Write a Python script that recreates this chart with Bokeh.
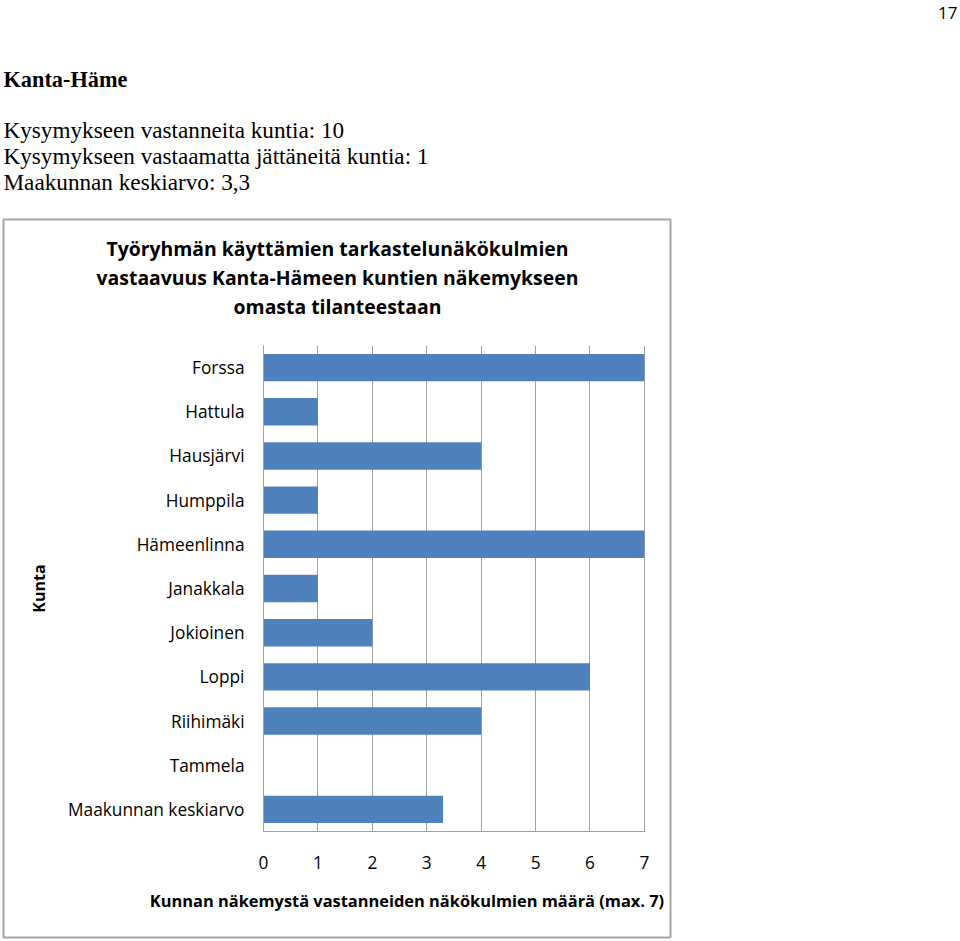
from bokeh.plotting import figure
from bokeh.models import Range1d, FactorRange, FixedTicker, ColumnDataSource, GridBox, Column
from bokeh.core.properties import value
from bokeh.embed import file_html
from bokeh.resources import INLINE
import numpy as np

# ---- data ----
page_number = "17"
heading = "Kanta-Häme"
info_lines = [
    "Kysymykseen vastanneita kuntia: 10",
    "Kysymykseen vastaamatta jättäneitä kuntia: 1",
    "Maakunnan keskiarvo: 3,3",
]
title_lines = [
    "Työryhmän käyttämien tarkastelunäkökulmien",
    "vastaavuus Kanta-Hämeen kuntien näkemykseen",
    "omasta tilanteestaan",
]
municipalities = ["Forssa", "Hattula", "Hausjärvi", "Humppila", "Hämeenlinna",
                  "Janakkala", "Jokioinen", "Loppi", "Riihimäki", "Tammela",
                  "Maakunnan keskiarvo"]
values = [7, 1, 4, 1, 7, 1, 2, 6, 4, None, 3.3]
x_ticks = [0, 1, 2, 3, 4, 5, 6, 7]
x_title = "Kunnan näkemystä vastanneiden näkökulmien määrä (max. 7)"
y_title = "Kunta"

# ---- layout (page pixels) ----
W, H = 960, 941
FL, FT, FW, FH = 263, 345, 382, 486
BAR = "#4F81BD"
GRID = "#a0a0a0"
BOX = "#a6a6a6"

# ---- bar chart ----
p = figure(width=W, height=H, output_backend="svg", toolbar_location=None,
           title=None,
           y_range=FactorRange(factors=list(reversed(municipalities)), range_padding=0),
           x_range=Range1d(0, 7.02),
           min_border_left=FL, min_border_top=FT,
           min_border_right=W - FL - FW, min_border_bottom=H - FT - FH)
p.outline_line_color = None
p.background_fill_color = "white"
p.border_fill_color = "white"

src = ColumnDataSource(dict(y=municipalities, v=np.array(values, dtype=float)))
p.hbar(y="y", right="v", left=0, height=0.62, source=src,
       fill_color=BAR, line_color=None)

p.xaxis.ticker = FixedTicker(ticks=x_ticks)
p.xgrid.ticker = FixedTicker(ticks=x_ticks)
p.xgrid.grid_line_color = GRID
p.ygrid.grid_line_color = None
p.xaxis.axis_line_color = GRID
p.yaxis.axis_line_color = GRID
for ax in (p.xaxis, p.yaxis):
    ax.major_tick_line_color = None
    ax.minor_tick_line_color = None
    ax.major_tick_out = 0
    ax.major_tick_in = 0
    ax.major_label_text_font = "Open Sans"
    ax.major_label_text_font_size = "17.3px"
    ax.major_label_text_color = "#000000"
p.xaxis.major_label_standoff = 24
p.yaxis.major_label_standoff = 19
p.yaxis.axis_label = y_title
p.yaxis.axis_label_text_font = "Open Sans"
p.yaxis.axis_label_text_font_style = "bold"
p.yaxis.axis_label_text_font_size = "16px"
p.yaxis.axis_label_text_color = "#000000"
p.yaxis.axis_label_standoff = 15

# ---- overlay with page texts and chart box (pixel coordinates) ----
o = figure(width=W, height=H, output_backend="svg", toolbar_location=None,
           title=None, x_range=Range1d(0, W), y_range=Range1d(H, 0),
           x_axis_type=None, y_axis_type=None, min_border=0)
o.outline_line_color = None
o.background_fill_alpha = 0
o.border_fill_alpha = 0

for fig in (p, o):
    if "frame_align" in fig.properties():
        fig.frame_align = False

o.quad(left=[3], right=[670], top=[219], bottom=[937],
       fill_color=None, line_color=BOX, line_width=2)


def txt(texts, xs, ys, font, size, style="normal", align="left", baseline="middle"):
    o.text(x=xs, y=ys, text=texts, text_font=value(font),
           text_font_size=value(size), text_font_style=style,
           text_align=align, text_baseline=baseline, text_color="#000000")


txt([page_number], [957], [12], "Open Sans", "17px", align="right")
txt([heading], [3], [79], "Liberation Serif", "22.3px", style="bold")
txt(info_lines, [3, 3, 3], [129.5, 155.5, 181.5], "Liberation Serif", "23.2px")
txt(title_lines, [337, 337, 337], [248, 277, 306], "Open Sans", "19.4px",
    style="bold", align="center")
txt([x_title], [406.5], [900], "Open Sans", "16.4px", style="bold", align="center")

layout = GridBox(children=[(Column(children=[p]), 0, 0), (Column(children=[o]), 0, 0)])

open("out.html", "w").write(file_html(layout, INLINE))
